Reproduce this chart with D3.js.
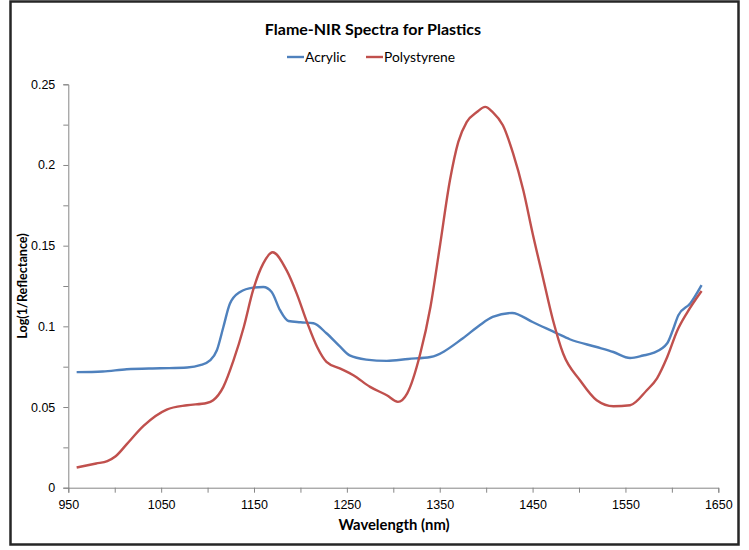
<!DOCTYPE html>
<html>
<head>
<meta charset="utf-8">
<script src="https://cdn.jsdelivr.net/npm/d3@7"></script>
<style>
  body { margin: 0; background: #fff; }
  svg { display: block; font-family: Lato, "Open Sans", sans-serif; }
</style>
</head>
<body>
<div id="chart"></div>
<script>
// wavelength (nm) / log(1/R)
const acrylicNm = [959, 987, 1013, 1049, 1078, 1092, 1103, 1110, 1117, 1124, 1135, 1149, 1160, 1169, 1178, 1187, 1200, 1214, 1228, 1243, 1253, 1271, 1293, 1316, 1340, 1375, 1393, 1407, 1428, 1450, 1476, 1490, 1519, 1537, 1555, 1569, 1580, 1595, 1601, 1607, 1620, 1632];
const acrylicVal = [0.0716, 0.0720, 0.0734, 0.0740, 0.0745, 0.0759, 0.0790, 0.0852, 0.0996, 0.1140, 0.1213, 0.1240, 0.1244, 0.1213, 0.1100, 0.1033, 0.1025, 0.1019, 0.0957, 0.0872, 0.0820, 0.0794, 0.0786, 0.0798, 0.0810, 0.0926, 0.1007, 0.1058, 0.1083, 0.1027, 0.0957, 0.0920, 0.0872, 0.0841, 0.0804, 0.0819, 0.0835, 0.0895, 0.0976, 0.1069, 0.1143, 0.1255];

const polyNm = [959, 980, 992, 1001, 1013, 1031, 1056, 1078, 1099, 1106, 1117, 1128, 1139, 1149, 1160, 1170, 1185, 1196, 1207, 1218, 1228, 1243, 1257, 1275, 1293, 1305, 1315, 1329, 1340, 1350, 1361, 1370, 1379, 1390, 1399, 1407, 1418, 1429, 1440, 1450, 1461, 1472, 1483, 1501, 1519, 1537, 1555, 1573, 1584, 1595, 1606, 1616, 1632];
const polyVal = [0.0125, 0.0150, 0.0165, 0.0195, 0.0270, 0.0383, 0.0484, 0.0511, 0.0525, 0.0542, 0.0625, 0.0790, 0.0996, 0.1224, 0.1390, 0.1459, 0.1348, 0.1203, 0.1027, 0.0872, 0.0780, 0.0738, 0.0697, 0.0625, 0.0573, 0.0532, 0.0585, 0.0830, 0.1120, 0.1490, 0.1905, 0.2143, 0.2266, 0.2328, 0.2360, 0.2328, 0.2246, 0.2072, 0.1843, 0.1577, 0.1306, 0.1038, 0.0830, 0.0666, 0.0542, 0.0505, 0.0511, 0.0604, 0.0678, 0.0810, 0.0976, 0.1081, 0.1219];

const xTicks = [950, 1000, 1050, 1100, 1150, 1200, 1250, 1300, 1350, 1400, 1450, 1500, 1550, 1600, 1650];
const xLabels = [950, 1050, 1150, 1250, 1350, 1450, 1550, 1650];
const yTicks = [0, 0.025, 0.05, 0.075, 0.1, 0.125, 0.15, 0.175, 0.2, 0.225, 0.25];
const yLabels = [0, 0.05, 0.1, 0.15, 0.2, 0.25];

const seriesNames = ["Acrylic", "Polystyrene"];
const seriesColors = ["#4F81BD", "#C0504D"];

const W = 749, H = 550;
const plot = { left: 68.3, right: 718.3, top: 84.3, bottom: 487.7 };

const svg = d3.select("#chart").append("svg")
  .attr("width", W).attr("height", H);

// chart border
svg.append("rect")
  .attr("x", 10.5).attr("y", 1.5)
  .attr("width", 728).attr("height", 543)
  .attr("fill", "#fff")
  .attr("stroke", "#262626")
  .attr("stroke-width", 2.5);

const x = d3.scaleLinear().domain([950, 1650]).range([plot.left, plot.right]);
const y = d3.scaleLinear().domain([0, 0.25]).range([plot.bottom, plot.top]);

let xAxis = g => g
  .attr("transform", `translate(0,${plot.bottom})`)
  .call(d3.axisBottom(x)
    .tickValues(xTicks)
    .tickSize(5)
    .tickFormat(d => xLabels.includes(d) ? d : ""))
  .call(g => g.selectAll(".domain, line").attr("stroke", "#868686"))
  .call(g => g.selectAll("text")
    .attr("dy", "1.05em")
    .attr("font-size", "12.5px")
    .attr("fill", "#000"));

let yAxis = g => g
  .attr("transform", `translate(${plot.left},0)`)
  .call(d3.axisLeft(y)
    .tickValues(yTicks)
    .tickSize(5)
    .tickFormat(d => yLabels.some(v => Math.abs(v - d) < 1e-9) ? d3.format("")(+d.toFixed(3)) : ""))
  .call(g => g.selectAll(".domain, line").attr("stroke", "#868686"))
  .call(g => g.selectAll("text")
    .attr("x", -13)
    .attr("font-size", "12.5px")
    .attr("fill", "#000"));

svg.append("g").call(xAxis);
svg.append("g").call(yAxis);

const line = d3.line()
  .x(d => x(d[0]))
  .y(d => y(d[1]))
  .curve(d3.curveMonotoneX);

const series = [
  d3.zip(acrylicNm, acrylicVal),
  d3.zip(polyNm, polyVal)
];

series.forEach((s, i) => {
  svg.append("path")
    .datum(s)
    .attr("fill", "none")
    .attr("stroke", seriesColors[i])
    .attr("stroke-width", 2.4)
    .attr("stroke-linejoin", "round")
    .attr("d", line);
});

// titles
svg.append("text")
  .attr("x", 373).attr("y", 35)
  .attr("text-anchor", "middle")
  .attr("font-weight", "bold")
  .attr("font-size", "16px")
  .text("Flame-NIR Spectra for Plastics");

svg.append("text")
  .attr("x", 394).attr("y", 530)
  .attr("text-anchor", "middle")
  .attr("font-weight", "bold")
  .attr("font-size", "14.8px")
  .text("Wavelength (nm)");

svg.append("text")
  .attr("transform", "translate(27,286) rotate(-90)")
  .attr("text-anchor", "middle")
  .attr("font-weight", "bold")
  .attr("font-size", "12.6px")
  .text("Log(1/Reflectance)");

// legend
const legend = svg.append("g").attr("class", "legend");
const legendX = [287, 366];
legend.selectAll("line")
  .data(seriesColors)
  .enter().append("line")
  .attr("x1", (d, i) => legendX[i])
  .attr("x2", (d, i) => legendX[i] + 17)
  .attr("y1", 57).attr("y2", 57)
  .attr("stroke", d => d)
  .attr("stroke-width", 2.4);
legend.selectAll("text")
  .data(seriesNames)
  .enter().append("text")
  .attr("x", (d, i) => legendX[i] + 18)
  .attr("y", 62)
  .attr("font-size", "13.8px")
  .text(d => d);
</script>
</body>
</html>
